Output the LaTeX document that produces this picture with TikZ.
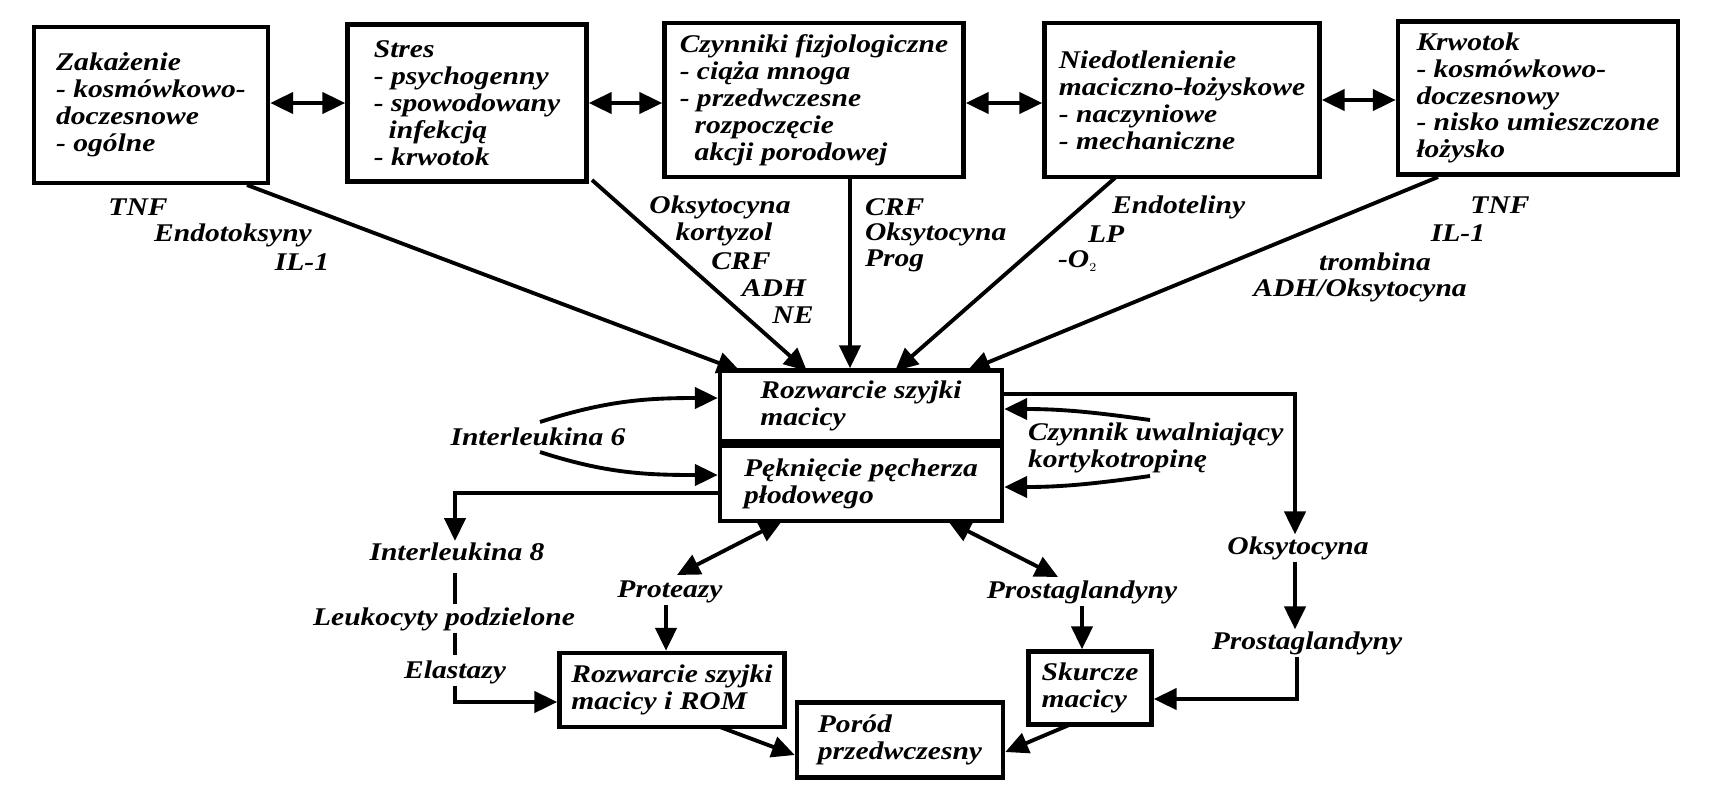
\documentclass[tikz,border=0pt]{standalone}
\usepackage{fontspec}
\setmainfont{Liberation Serif}[FakeStretch=1.16]
\usetikzlibrary{arrows.meta,positioning}
\tikzset{
	box/.style={draw, line width=2.6pt, align=left, inner sep=4pt, font=\bfseries\itshape\fontsize{14.5}{15.3}\selectfont},
	lab/.style={inner sep=1pt, align=left, font=\bfseries\itshape\fontsize{14.5}{15.3}\selectfont},
	arr/.style={line width=2.2pt, -{Triangle[width=12pt,length=13pt]}},
	darr/.style={line width=2.2pt, {Triangle[width=12pt,length=13pt]}-{Triangle[width=12pt,length=13pt]}},
	ln/.style={line width=2.2pt}
}
\begin{document}
\begin{tikzpicture}[x=0.02cm, y=-0.02cm]
	\useasboundingbox (0,0) rectangle (1719,795);
	
	% top row
	\node[box, minimum width=4.68cm, minimum height=3.12cm] (zak) at (151,105) {Zakażenie\\- kosmówkowo-\\doczesnowe\\- ogólne};
	\node[box, minimum width=4.78cm, minimum height=3.14cm] (stres) at (467,103) {Stres\\- psychogenny\\- spowodowany\\\ \ infekcją\\- krwotok};
	\node[box, minimum width=5.98cm, minimum height=3.08cm] (czyn) at (814,100) {Czynniki fizjologiczne\\- ciąża mnoga\\- przedwczesne\\\ \ rozpoczęcie\\\ \ akcji porodowej};
	\node[box, minimum width=5.5cm, minimum height=3.08cm] (niedot) at (1182,100) {Niedotlenienie\\maciczno-łożyskowe\\- naczyniowe\\- mechaniczne};
	\node[box, minimum width=5.6cm, minimum height=3.06cm] (krw) at (1538,98) {Krwotok\\- kosmówkowo-\\doczesnowy\\- nisko umieszczone\\łożysko};
	
	\draw[darr] (zak.east |- 0,103) -- (stres.west |- 0,103);
	\draw[darr] (stres.east |- 0,103) -- (czyn.west |- 0,103);
	\draw[darr] (czyn.east |- 0,103) -- (niedot.west |- 0,103);
	\draw[darr] (niedot.east |- 0,100) -- (krw.west |- 0,100);
	
	% mediators
	\node[lab] (tnfa) at (138,207) {TNF};
	\node[lab] (endo) at (233,235) {Endotoksyny};
	\node[lab] (ila) at (302,262) {IL-1};
	\node[lab] (oks) at (720,207) {Oksytocyna};
	\node[lab] (kort) at (724,234) {kortyzol};
	\node[lab] (crfa) at (741,261) {CRF};
	\node[lab] (adha) at (774,288) {ADH};
	\node[lab] (ne) at (793,315) {NE};
	\node[lab, anchor=west] (crfb) at (863,207) {CRF};
	\node[lab, anchor=west] (oksb) at (863,234) {Oksytocyna};
	\node[lab, anchor=west] (prog) at (863,261) {Prog};
	\node[lab, anchor=west] (endt) at (1110,207) {Endoteliny};
	\node[lab, anchor=west] (lp) at (1086,234) {LP};
	\node[lab, anchor=west] (otwo) at (1056,261) {-O$_{\scriptscriptstyle 2}$};
	\node[lab] (tnfb) at (1500,205) {TNF};
	\node[lab] (ilb) at (1458,233) {IL-1};
	\node[lab] (tromb) at (1375,262) {trombina};
	\node[lab] (adhb) at (1360,290) {ADH/Oksytocyna};
	
	% centre
	\node[box, minimum width=5.64cm, minimum height=1.42cm] (rozw) at (861,406) {Rozwarcie szyjki\\macicy\hspace*{2.2cm}};
	\node[box, minimum width=5.64cm, minimum height=1.5cm, below=0pt of rozw] (pekn) {Pęknięcie pęcherza\\płodowego\hspace*{1.4cm}};
	
	\coordinate (z1) at (247,185);
	\coordinate (s1) at (592,180);
	\coordinate (n1) at (1116,177);
	\coordinate (k1) at (1438,177);
	\draw[arr] (z1) -- (740,371);
	\draw[arr] (s1) -- (807,371);
	\draw[arr] (czyn.south -| 850,0) -- (rozw.north -| 850,0);
	\draw[arr] (n1) -- (895,371);
	\draw[arr] (k1) -- (967,371);
	
	% left loop
	\node[lab] (il6) at (538,437) {Interleukina 6};
	\draw[arr] (540,422) to[out=18, in=180] (rozw.west |- 0,398);
	\draw[arr] (540,452) to[out=-18, in=180] (pekn.west |- 0,475);
	
	% right loop
	\node[lab, anchor=west] (crh) at (1026,448) {Czynnik uwalniający\\kortykotropinę};
	\draw[arr] (1150,420) to[out=172, in=0] (rozw.east |- 0,409);
	\draw[arr] (1150,476) to[out=188, in=0] (pekn.east |- 0,487);
	
	% oksytocyna chain
	\node[lab] (oksc) at (1298,548) {Oksytocyna};
	\node[lab] (prgl) at (1307,643) {Prostaglandyny};
	\draw[arr] (rozw.east |- 0,394) -| (oksc.north -| 1295,0);
	\draw[arr] (oksc.south -| 1295,0) -- (prgl.north -| 1295,0);
	
	% lower boxes
	\node[box, minimum width=4.5cm, minimum height=1.48cm] (rom) at (672,690) {Rozwarcie szyjki\\macicy i ROM};
	\node[box, minimum width=2.46cm, minimum height=1.46cm] (skur) at (1090,688) {Skurcze\\macicy};
	\node[box, minimum width=4.12cm, minimum height=1.5cm] (porod) at (900,740) {Poród\hspace*{1.5cm}\\przedwczesny};
	
	\draw[arr] (prgl.south -| 1297,0) |- (skur.east |- 0,699);
	
	% interleukina 8 chain
	\node[lab] (il8) at (457,552) {Interleukina 8};
	\node[lab] (leuk) at (444,619) {Leukocyty podzielone};
	\node[lab] (elast) at (455,672) {Elastazy};
	\draw[arr] (pekn.west |- 0,493) -| (il8.north -| 455,0);
	\draw[ln] (455,573) -- (455,604);
	\draw[ln] (455,633) -- (455,655);
	\draw[arr] (elast.south -| 455,0) |- (rom.west |- 0,702);
	
	% proteazy / prostaglandyny
	\node[lab] (prot) at (670,592) {Proteazy};
	\node[lab] (prgb) at (1082,592) {Prostaglandyny};
	\draw[darr] (782,521) -- (677,575);
	\draw[darr] (948,521) -- (1058,577);
	\draw[arr] (prot.south -| 666,0) -- (rom.north -| 666,0);
	\draw[arr] (prgb.south -| 1082,0) -- (skur.north -| 1082,0);
	
	\draw[arr] (720,727) -- (porod.west |- 0,755);
	\draw[arr] (1069,725) -- (porod.east |- 0,752);
\end{tikzpicture}
\end{document}
